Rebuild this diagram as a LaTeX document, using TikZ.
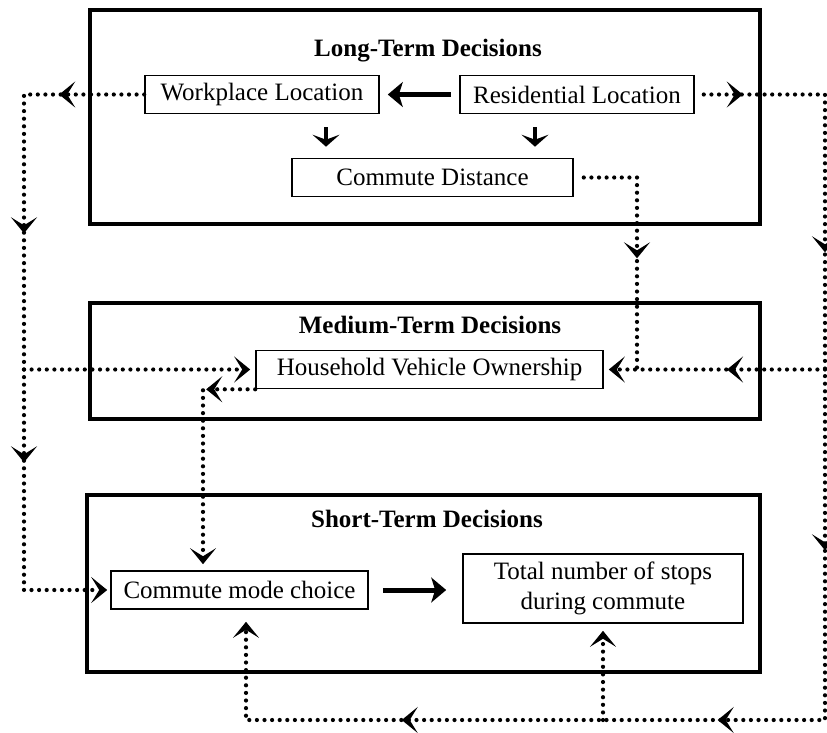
\documentclass[tikz,border=0pt]{standalone}
\usepackage{fontspec}
\setmainfont{Liberation Serif}
\usetikzlibrary{positioning}
\usetikzlibrary{arrows.meta,decorations.markings}

\begin{document}
\begin{tikzpicture}
    [x=1pt, y=-1pt,
     font=\fontsize{25}{30}\selectfont,
     frame/.style = {draw, line width=3.2pt, inner sep=0pt},
     box/.style = {draw, line width=1.6pt, inner sep=0pt, minimum height=38pt, align=center},
     title/.style = {font=\fontsize{25}{30}\selectfont\bfseries, anchor=base},
     dotarrow/.tip = {Stealth[length=16pt, width=26pt, inset=8pt]},
     dots/.style = {line width=4.2pt, line cap=round, dash pattern=on 0pt off 7.6pt},
     mid/.style = {postaction={decorate, decoration={markings,
         mark=at position #1 with {\arrow{dotarrow}}}}},
     bigarrow/.style = {line width=5pt, -{Stealth[length=15pt, width=25pt, inset=4pt]}},
     smallarrow/.style = {line width=3.4pt, -{Stealth[length=12pt, width=27pt, inset=5pt]}}]

    \useasboundingbox (0,0) rectangle (827,732);

    % decision levels
    \node[frame, minimum width=670pt, minimum height=214pt] (long) at (425,117) {};
    \node[frame, minimum width=670pt, minimum height=116pt] (medium) at (425,361) {};
    \node[frame, minimum width=673pt, minimum height=177pt] (short) at (423.5,583.5) {};

    \node[title] (longT) at (428,56) {Long-Term Decisions};
    \node[title] (mediumT) at (430,333) {Medium-Term Decisions};
    \node[title] (shortT) at (427,527) {Short-Term Decisions};

    \node[box, minimum width=234pt] (work) at (262,94.5) {Workplace Location};
    \node[box, minimum width=234pt] (resid) at (577,94.5) {Residential Location};
    \node[box, minimum width=281pt] (dist) at (432.5,177.5) {Commute Distance};
    \node[box, minimum width=347pt] (hvo) at (429.5,369.5) {Household Vehicle Ownership};
    \node[box, minimum width=257pt] (mode) at (239.5,590) {Commute mode choice};
    \node[box, minimum width=280pt, minimum height=69pt] (stops) at (603,588.5)
        {Total number of stops\\during commute};

    % columns and rows of the dotted links
    \coordinate (xl) at (24,0);
    \coordinate (xr) at (825,0);
    \coordinate (xd) at (637,0);
    \coordinate (xh) at (203,0);
    \coordinate (xm) at (246,0);
    \coordinate (yb) at (0,720);

    \draw[bigarrow, shorten <=8pt, shorten >=8pt] (resid) -- (work);
    \draw[smallarrow, shorten <=13pt, shorten >=11pt] ([xshift=64pt]work.south) -- ([xshift=64pt]work.south |- dist.north);
    \draw[smallarrow, shorten <=13pt, shorten >=11pt] ([xshift=-42pt]resid.south) -- ([xshift=-42pt]resid.south |- dist.north);
    \draw[bigarrow, shorten <=14pt, shorten >=16pt] (mode.east) -- (mode.east -| stops.west);

    \draw[dots, mid=85pt, mid=259pt, mid=488pt, -{dotarrow}, shorten >=3pt]
        (work.west) -- (work.west -| xl) -- (mode.west -| xl) -- (mode.west);
    \draw[dots, -{dotarrow}, shorten >=5pt] (hvo.west -| xl) -- (hvo.west);
    \draw[dots, shorten <=9pt, mid=48pt, mid=288pt, mid=586pt, mid=863pt, mid=1179pt, -{dotarrow}, shorten >=12pt]
        (resid.east) -- (resid.east -| xr) -- (yb -| xr) -- (yb -| xm) -- (mode.south -| xm);
    \draw[dots, mid=98pt, -{dotarrow}, shorten >=5pt] (hvo.east -| xr) -- (hvo.east);
    \draw[dots, -{dotarrow}, shorten >=7pt] (yb -| stops.south) -- (stops.south);
    \draw[dots, shorten <=10pt, mid=144pt] (dist.east) -- (dist.east -| xd) -- (hvo.east -| xd);
    \draw[dots, mid=49pt, -{dotarrow}, shorten >=6pt]
        (hvo.south west) -- (hvo.south west -| xh) -- (mode.north -| xh);
\end{tikzpicture}
\end{document}
